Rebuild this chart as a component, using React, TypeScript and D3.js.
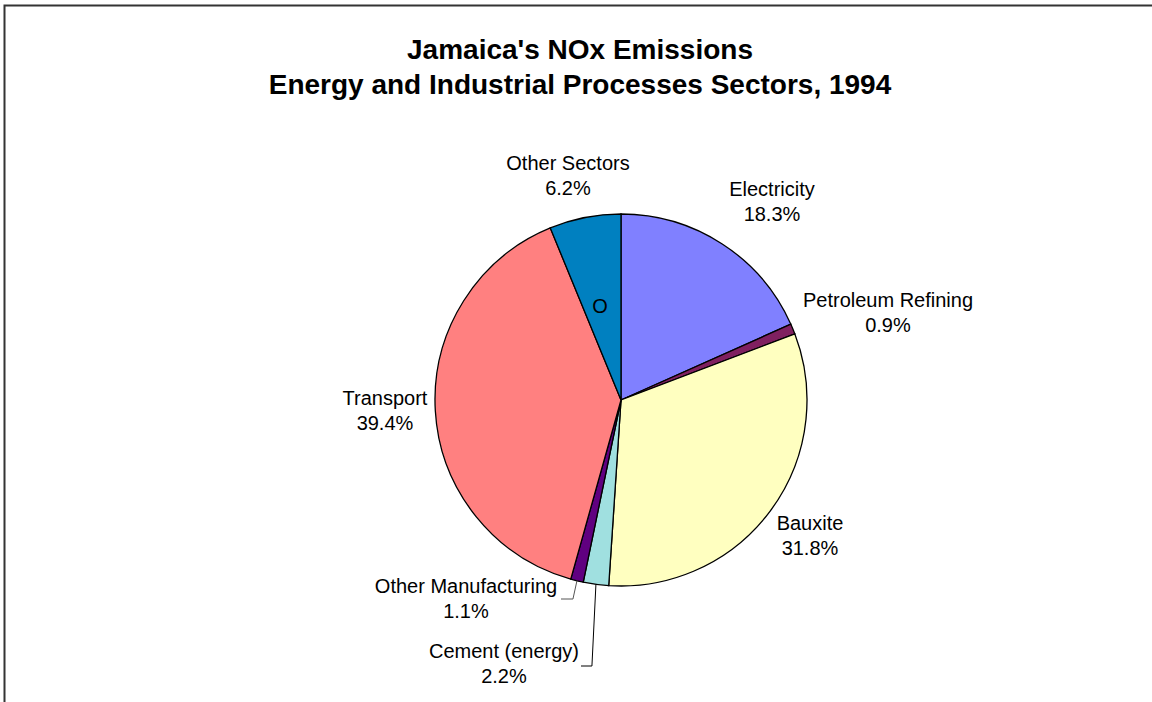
import React from "react";
import * as d3 from "d3";

const categories = ["Electricity", "Petroleum Refining", "Bauxite", "Cement (energy)", "Other Manufacturing", "Transport", "Other Sectors"];
const values = [18.3, 0.9, 31.8, 2.2, 1.1, 39.4, 6.2];
const colors = ["#8080FF", "#802060", "#FFFFC0", "#A0E0E0", "#600080", "#FF8080", "#0080C0"];
const labelPos: [number, number][] = [
  [772, 196], [888, 307], [810, 530], [504, 658], [466, 593], [385, 405], [568, 170],
];

export default function App() {
  const W = 1152, H = 702;
  const cx = 621, cy = 400, r = 186;
  const pie = d3.pie<number>().sort(null).value((d) => d);
  const arcs = pie(values);
  const arcGen = d3.arc<d3.PieArcDatum<number>>().innerRadius(0).outerRadius(r);
  const font = "Liberation Sans, Arial, sans-serif";
  const edge = (a: number, rr: number): [number, number] => [cx + rr * Math.sin(a), cy - rr * Math.cos(a)];
  const cemMid = (arcs[3].startAngle + arcs[3].endAngle) / 2;
  const omMid = (arcs[4].startAngle + arcs[4].endAngle) / 2;
  const cemP = edge(cemMid, r);
  const omP = edge(omMid, r);
  return (
    <svg width={W} height={H} style={{ position: "absolute", left: 0, top: 0 }}>
      <rect x={0} y={0} width={W} height={H} fill="#fff" />
      <rect x={4.5} y={5.5} width={W + 20} height={H + 20} fill="none" stroke="#333" strokeWidth={2} />
      <text x={580} y={59} textAnchor="middle" fontFamily={font} fontWeight="bold" fontSize={28}>Jamaica's NOx Emissions</text>
      <text x={580} y={94} textAnchor="middle" fontFamily={font} fontWeight="bold" fontSize={28}>Energy and Industrial Processes Sectors, 1994</text>
      <g transform={`translate(${cx},${cy})`}>
        {arcs.map((a, i) => (
          <path key={i} d={arcGen(a) || ""} fill={colors[i]} stroke="#000" strokeWidth={1.3} />
        ))}
      </g>
      <text x={600} y={313} textAnchor="middle" fontFamily={font} fontSize={20}>O</text>
      <polyline points={`${omP[0]},${omP[1]} ${omP[0] - 4},${599} ${561},${599}`} fill="none" stroke="#555" strokeWidth={1} />
      <polyline points={`${cemP[0]},${cemP[1]} ${cemP[0] - 4},${666} ${581},${666}`} fill="none" stroke="#000" strokeWidth={1} />
      {categories.map((c, i) => (
        <text key={i} fontFamily={font} fontSize={20} textAnchor="middle" fill="#000">
          <tspan x={labelPos[i][0]} y={labelPos[i][1]}>{c}</tspan>
          <tspan x={labelPos[i][0]} y={labelPos[i][1] + 25}>{values[i].toFixed(1)}%</tspan>
        </text>
      ))}
    </svg>
  );
}
